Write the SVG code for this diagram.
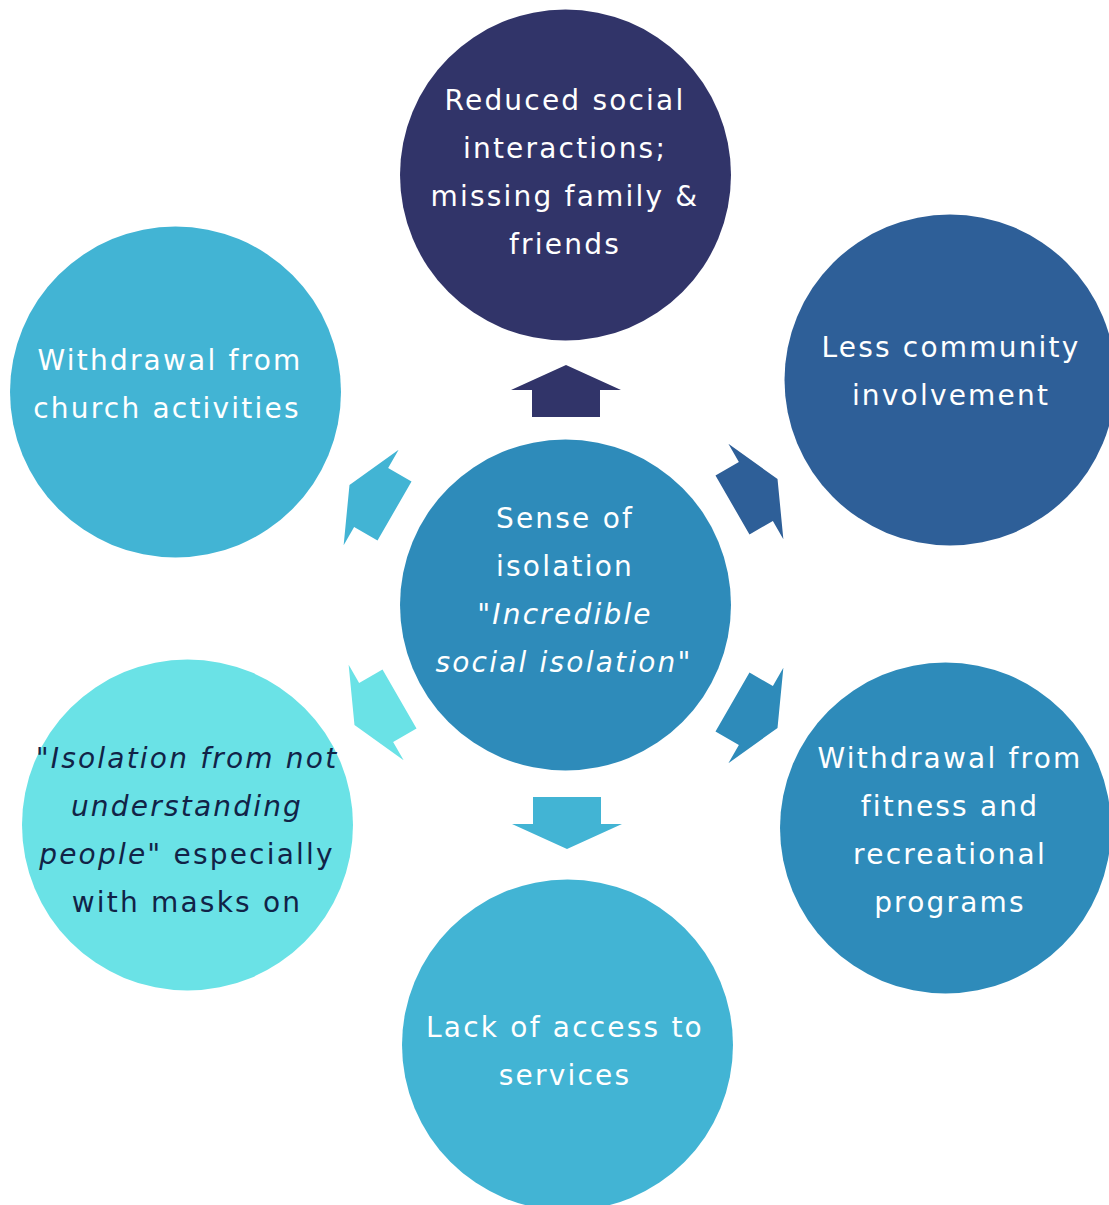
<svg xmlns="http://www.w3.org/2000/svg" width="1109" height="1205" viewBox="0 0 1109 1205">
<style>
text{font-family:"DejaVu Sans","Open Sans",sans-serif;font-size:28px;text-anchor:middle;fill:#ffffff;letter-spacing:2.2px}
.dark{fill:#112347}
.it{font-style:italic}
</style>
<defs>
<polygon id="arr" points="0,-26 55,-1 34,-1 34,26 -34,26 -34,-1 -55,-1"/>
</defs>
<rect width="1109" height="1205" fill="#ffffff"/>
<g id="connectors">
<use href="#arr" transform="translate(566,391)" fill="#313469"/>
<use href="#arr" transform="translate(755,492) rotate(60)" fill="#2E5F98"/>
<use href="#arr" transform="translate(755,715) rotate(120)" fill="#2E8BBA"/>
<use href="#arr" transform="translate(567,823) rotate(180)" fill="#42B4D4"/>
<use href="#arr" transform="translate(377,712) rotate(240)" fill="#6AE2E6"/>
<use href="#arr" transform="translate(372,498) rotate(300)" fill="#42B4D4"/>
</g>
<g id="node-top">
<circle cx="565.5" cy="175" r="165.5" fill="#313469"/>
<text x="565" y="110">Reduced social</text>
<text x="565" y="158">interactions;</text>
<text x="565" y="206">missing family &amp;</text>
<text x="565" y="254">friends</text>
</g>
<g id="node-top-right">
<circle cx="950" cy="380" r="165.5" fill="#2E5F98"/>
<text x="951" y="357">Less community</text>
<text x="951" y="405">involvement</text>
</g>
<g id="node-top-left">
<circle cx="175.5" cy="392" r="165.5" fill="#42B4D4"/>
<text x="170" y="370">Withdrawal from</text>
<text x="167" y="418">church activities</text>
</g>
<g id="node-center">
<circle cx="565.5" cy="605" r="165.5" fill="#2E8BBA"/>
<text x="565" y="528">Sense of</text>
<text x="565" y="576">isolation</text>
<text x="565" y="624">"<tspan class="it">Incredible</tspan></text>
<text x="564" y="672"><tspan class="it">social isolation</tspan>"</text>
</g>
<g id="node-bottom-left">
<circle cx="187.5" cy="825" r="165.5" fill="#6AE2E6"/>
<text class="dark" x="187" y="768">"<tspan class="it">Isolation from not</tspan></text>
<text class="dark it" x="187" y="816">understanding</text>
<text class="dark" x="187" y="864"><tspan class="it">people</tspan>" especially</text>
<text class="dark" x="187" y="912">with masks on</text>
</g>
<g id="node-bottom-right">
<circle cx="945.5" cy="828" r="165.5" fill="#2E8BBA"/>
<text x="950" y="768">Withdrawal from</text>
<text x="950" y="816">fitness and</text>
<text x="950" y="864">recreational</text>
<text x="950" y="912">programs</text>
</g>
<g id="node-bottom">
<circle cx="567.5" cy="1045" r="165.5" fill="#42B4D4"/>
<text x="565" y="1037">Lack of access to</text>
<text x="565" y="1085">services</text>
</g>
</svg>
